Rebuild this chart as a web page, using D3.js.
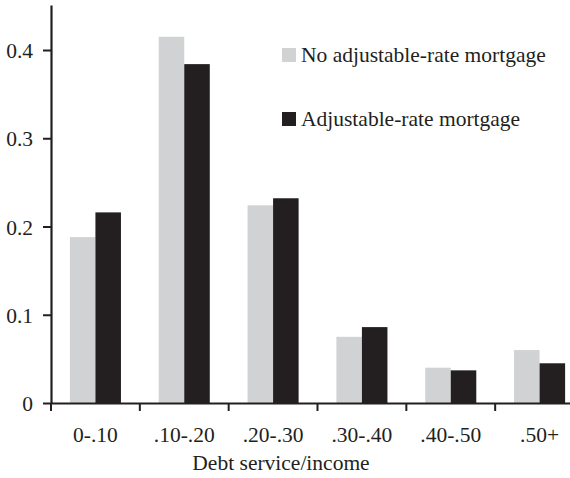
<!DOCTYPE html>
<html>
<head>
<meta charset="utf-8">
<script src="https://cdn.jsdelivr.net/npm/d3@7"></script>
<style>
  body { margin: 0; background: #fff; }
  text { font-family: "Liberation Serif", "Times New Roman", serif; fill: #231f20; }
</style>
</head>
<body>
<svg width="570" height="478"></svg>
<script>
const categories = ['0-.10', '.10-.20', '.20-.30', '.30-.40', '.40-.50', '.50+']
const seriesNames = ['No adjustable-rate mortgage', 'Adjustable-rate mortgage']
const noArm = [0.188, 0.415, 0.224, 0.075, 0.040, 0.060]
const arm = [0.216, 0.384, 0.232, 0.086, 0.037, 0.045]
const yTicks = [0, 0.1, 0.2, 0.3, 0.4]
const colors = ['#d1d2d4', '#231f20']
const fs = '21.5px'

const data = categories.map((c, i) => ({cat: c, values: [noArm[i], arm[i]]}))

const svg = d3.select('svg')
const x = d3.scaleBand().domain(categories).range([51, 584]).padding(0)
const x1 = d3.scaleBand().domain([0, 1]).range([0, x.bandwidth()])
    .paddingInner(0).paddingOuter(0.74)
const y = d3.scaleLinear().domain([0, 0.451]).range([403, 5])

// bars
const g = svg.selectAll('.grp')
    .data(data)
    .enter().append('g')
    .attr('transform', d => `translate(${x(d.cat)},0)`)

g.selectAll('rect')
    .data(d => d.values)
    .enter().append('rect')
    .attr('x', (d, i) => x1(i))
    .attr('y', d => y(d))
    .attr('width', x1.bandwidth())
    .attr('height', d => y(0) - y(d))
    .attr('fill', (d, i) => colors[i])

// y axis
const yAxis = svg.append('g')
    .attr('transform', 'translate(51,0)')
    .call(d3.axisLeft(y).tickValues(yTicks).tickSize(8).tickSizeOuter(0)
        .tickFormat(d => d === 0 ? '0' : d3.format('.1f')(d)))
yAxis.select('.domain').attr('stroke', '#231f20').attr('stroke-width', 2.2)
yAxis.selectAll('.tick line').attr('stroke', '#231f20').attr('stroke-width', 2)
yAxis.selectAll('.tick text')
    .attr('x', -18).attr('dy', '0.35em')
    .style('font-size', fs)
    .style('font-family', '"Liberation Serif", serif')
    .attr('fill', '#231f20')

// x axis
const xAxis = svg.append('g')
    .attr('transform', 'translate(0,403)')
    .call(d3.axisBottom(x).tickSize(0).tickSizeOuter(0))
xAxis.select('.domain').attr('stroke', '#231f20').attr('stroke-width', 2.2)
xAxis.selectAll('.tick text')
    .attr('y', 39).attr('dy', 0)
    .style('font-size', fs)
    .style('font-family', '"Liberation Serif", serif')
    .attr('fill', '#231f20')

xAxis.selectAll('.bound')
    .data(categories)
    .enter().append('line')
    .attr('x1', d => x(d)).attr('x2', d => x(d))
    .attr('y1', 0).attr('y2', 8)
    .attr('stroke', '#231f20').attr('stroke-width', 2)

svg.append('text')
    .attr('x', 281).attr('y', 470)
    .attr('text-anchor', 'middle')
    .style('font-size', fs)
    .text('Debt service/income')

// legend
const leg = svg.selectAll('.leg')
    .data(seriesNames)
    .enter().append('g')
    .attr('transform', (d, i) => `translate(282,${48 + i * 64})`)
leg.append('rect')
    .attr('width', 14).attr('height', 14)
    .attr('fill', (d, i) => colors[i])
leg.append('text')
    .attr('x', 19).attr('y', 14)
    .style('font-size', fs)
    .text(d => d)
</script>
</body>
</html>
